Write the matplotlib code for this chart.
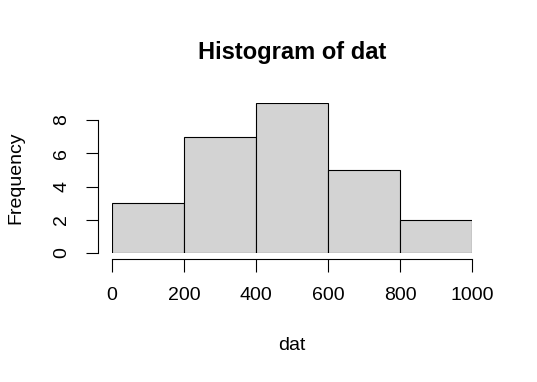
import numpy as np
import matplotlib.pyplot as plt

plt.rcParams['font.family'] = ['Liberation Sans', 'DejaVu Sans']

bin_edges = [0, 200, 400, 600, 800, 1000]
counts = [3, 7, 9, 5, 2]
x_ticks = [0, 200, 400, 600, 800, 1000]
y_ticks = [0, 2, 4, 6, 8]

fig = plt.figure(figsize=(5.37, 3.82), dpi=100)
ax = fig.add_axes([112 / 537, (382 - 253) / 382, 360 / 537, 149.6 / 382])

ax.hist(bin_edges[:-1], bins=bin_edges, weights=counts,
        facecolor='#d3d3d3', edgecolor='black', linewidth=0.8)

ax.set_xlim(0, 1000)
ax.set_ylim(0, 9)
ax.set_xticks(x_ticks)
ax.set_yticks(y_ticks)

for s in ['top', 'right']:
    ax.spines[s].set_visible(False)
ax.spines['left'].set_position(('outward', 14 * 0.72))
ax.spines['bottom'].set_position(('outward', 6 * 0.72))
ax.spines['left'].set_bounds(0, 8)
ax.spines['bottom'].set_bounds(0, 1000)
for s in ['left', 'bottom']:
    ax.spines[s].set_linewidth(0.8)

ax.tick_params(axis='x', length=9, width=0.8, pad=11, labelsize=14)
ax.tick_params(axis='y', length=9, width=0.8, pad=11, labelsize=14,
               labelrotation=90)
for lab in ax.get_yticklabels():
    lab.set_verticalalignment('center')

ax.set_title('Histogram of dat', fontsize=17, fontweight='bold', pad=32)
ax.set_xlabel('dat', fontsize=14, labelpad=24)
ax.set_ylabel('Frequency', fontsize=14, labelpad=21)

fig.savefig('out.png', dpi=100)
